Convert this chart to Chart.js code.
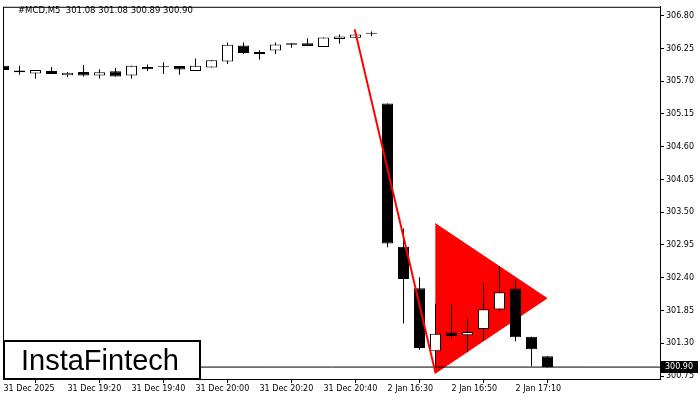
<!DOCTYPE html>
<html><head><meta charset="utf-8">
<script src="https://cdn.jsdelivr.net/npm/chart.js@4.4.1/dist/chart.umd.min.js"></script>
<style>html,body{margin:0;padding:0;background:#fff}#wrap{position:relative;width:700px;height:400px}</style>
</head><body><div id="wrap"><canvas id="c" width="700" height="400"></canvas></div>
<script>
const symbolTitle = '#MCD,M5  301.08 301.08 300.89 300.90';
const logoText = 'InstaFintech';
const tickIndex = [0, 4, 8, 12, 16, 20, 24, 28, 32];
const tickLabels = ['31 Dec 2025', '31 Dec 19:20', '31 Dec 19:40', '31 Dec 20:00', '31 Dec 20:20', '31 Dec 20:40', '2 Jan 16:30', '2 Jan 16:50', '2 Jan 17:10'];
const priceTicks = [300.75, 301.30, 301.85, 302.40, 302.95, 303.50, 304.05, 304.60, 305.15, 305.70, 306.25, 306.80];

const openP  = [305.96, 305.88, 305.83, 305.87, 305.80, 305.855, 305.795, 305.865, 305.795, 305.94, 305.94, 305.955, 305.87, 305.93, 306.03, 306.30, 306.19, 306.215, 306.335, 306.335, 306.275, 306.41, 306.43, 306.50, 305.325, 302.92, 302.225, 301.165, 301.48, 301.435, 301.54, 301.865, 302.22, 301.41, 301.08];
const highP  = [305.97, 305.96, 305.89, 305.94, 305.855, 305.97, 305.90, 305.92, 305.96, 305.98, 306.02, 305.955, 306.08, 306.05, 306.35, 306.35, 306.22, 306.35, 306.335, 306.42, 306.435, 306.485, 306.49, 306.535, 305.325, 303.225, 302.41, 301.965, 301.955, 301.72, 302.31, 302.59, 302.38, 301.41, 301.08];
const lowP   = [305.87, 305.81, 305.74, 305.82, 305.77, 305.78, 305.745, 305.78, 305.74, 305.87, 305.82, 305.81, 305.87, 305.93, 305.99, 306.155, 306.06, 306.155, 306.26, 306.29, 306.275, 306.33, 306.43, 306.455, 302.91, 301.63, 301.19, 300.88, 301.36, 301.15, 301.35, 301.83, 301.335, 300.915, 300.89];
const closeP = [305.89, 305.85, 305.89, 305.82, 305.84, 305.795, 305.85, 305.78, 305.96, 305.90, 305.935, 305.895, 305.96, 306.05, 306.31, 306.175, 306.155, 306.315, 306.31, 306.29, 306.435, 306.45, 306.485, 306.495, 302.975, 302.38, 301.22, 301.46, 301.42, 301.49, 301.87, 302.155, 301.40, 301.20, 300.90];

const poleX = [21.95, 27.0];
const poleY = [306.57, 300.80];
const pennantX = [26.98, 33.96];
const pennantUpper = [303.31, 302.055];
const pennantLower = [300.795, 302.055];
const lastPrice = 300.90;

const X_MIN = -0.03125, X_MAX = 41.03125;
const Y_MIN = 300.70, Y_MAX = 306.949;

const idx = openP.map((_, i) => i);
const bodies = idx.map(i => ({x: i, y: [Math.min(openP[i], closeP[i]), Math.max(openP[i], closeP[i])]}));
const wicks = idx.map(i => ({x: i, y: [lowP[i], highP[i]]}));
const bodyColors = idx.map(i => closeP[i] > openP[i] ? '#ffffff' : '#000000');

const axisFont = {family: 'DejaVu Sans', size: 8};

const overlay = {
  id: 'overlay',
  afterDatasetsDraw(chart) {
    const {ctx, chartArea: a} = chart;
    ctx.save();
    ctx.strokeStyle = '#000'; ctx.lineWidth = 1;
    ctx.strokeRect(a.left + 0.5, a.top + 0.5, a.right - a.left, a.bottom - a.top);
    ctx.restore();
  },
  afterDraw(chart) {
    const {ctx, chartArea: a, scales} = chart;
    ctx.save();
    // title
    ctx.fillStyle = '#000';
    ctx.font = '8.5px "DejaVu Sans"';
    ctx.textBaseline = 'middle'; ctx.textAlign = 'left';
    ctx.fillText(symbolTitle, 18, 11);
    // price label
    const py = scales.y.getPixelForValue(lastPrice);
    ctx.fillStyle = '#000';
    ctx.fillRect(a.right + 1, Math.round(py) - 6, 37, 12);
    ctx.fillStyle = '#fff';
    ctx.font = '8px "DejaVu Sans"';
    ctx.fillText(lastPrice.toFixed(2), a.right + 5, Math.round(py));
    // logo
    ctx.fillStyle = '#fff';
    ctx.fillRect(3, 340, 198, 40);
    ctx.strokeStyle = '#000'; ctx.lineWidth = 2;
    ctx.strokeRect(4, 341, 196, 38);
    ctx.fillStyle = '#000';
    ctx.font = '29px "Liberation Sans"';
    ctx.textBaseline = 'alphabetic';
    ctx.fillText(logoText, 21, 370);
    ctx.restore();
  }
};

new Chart(document.getElementById('c'), {
  type: 'bar',
  data: {
    datasets: [
      {type: 'line', data: poleX.map((x, i) => ({x, y: poleY[i]})), borderColor: '#ff0000', borderWidth: 2, pointRadius: 0, fill: false, order: 0, clip: 0},
      {type: 'bar', data: bodies, backgroundColor: bodyColors, borderColor: '#000', borderWidth: 1, borderSkipped: false, barThickness: 11, grouped: false, inflateAmount: 0, minBarLength: 1, order: 1, clip: 0},
      {type: 'bar', data: wicks, backgroundColor: '#000', borderWidth: 0, barThickness: 1, grouped: false, inflateAmount: 0, order: 2, clip: 0},
      {type: 'line', data: [{x: X_MIN, y: lastPrice}, {x: X_MAX, y: lastPrice}], borderColor: '#000', borderWidth: 1, pointRadius: 0, fill: false, order: 3, clip: 0},
      {type: 'line', data: pennantX.map((x, i) => ({x, y: pennantUpper[i]})), borderColor: '#ff0000', backgroundColor: '#ff0000', borderWidth: 1, pointRadius: 0, fill: 5, order: 4, clip: 0},
      {type: 'line', data: pennantX.map((x, i) => ({x, y: pennantLower[i]})), borderColor: '#ff0000', borderWidth: 1, pointRadius: 0, fill: false, order: 5, clip: 0}
    ]
  },
  options: {
    responsive: false, animation: false,
    layout: {padding: {left: 3, top: 2, right: 0, bottom: 0}},
    plugins: {legend: {display: false}, tooltip: {enabled: false}, title: {display: false}},
    scales: {
      x: {
        type: 'linear', min: X_MIN, max: X_MAX, offset: false,
        afterBuildTicks: s => { s.ticks = tickIndex.map(v => ({value: v})); },
        afterFit: s => { s.height = 21; },
        ticks: {callback: (v, i) => tickLabels[i], align: 'start', maxRotation: 0, autoSkip: false, font: axisFont, color: '#000', padding: 1},
        grid: {drawOnChartArea: false, drawTicks: true, tickLength: 4, color: '#000'},
        border: {display: true, color: '#000'}
      },
      y: {
        type: 'linear', position: 'right', min: Y_MIN, max: Y_MAX,
        afterBuildTicks: s => { s.ticks = priceTicks.map(v => ({value: v})); },
        afterFit: s => { s.width = 40; },
        ticks: {callback: v => v.toFixed(2), autoSkip: false, font: axisFont, color: '#000', padding: 2},
        grid: {drawOnChartArea: false, drawTicks: true, tickLength: 4, color: '#000'},
        border: {display: true, color: '#000'}
      }
    }
  },
  plugins: [overlay]
});
</script></body></html>
